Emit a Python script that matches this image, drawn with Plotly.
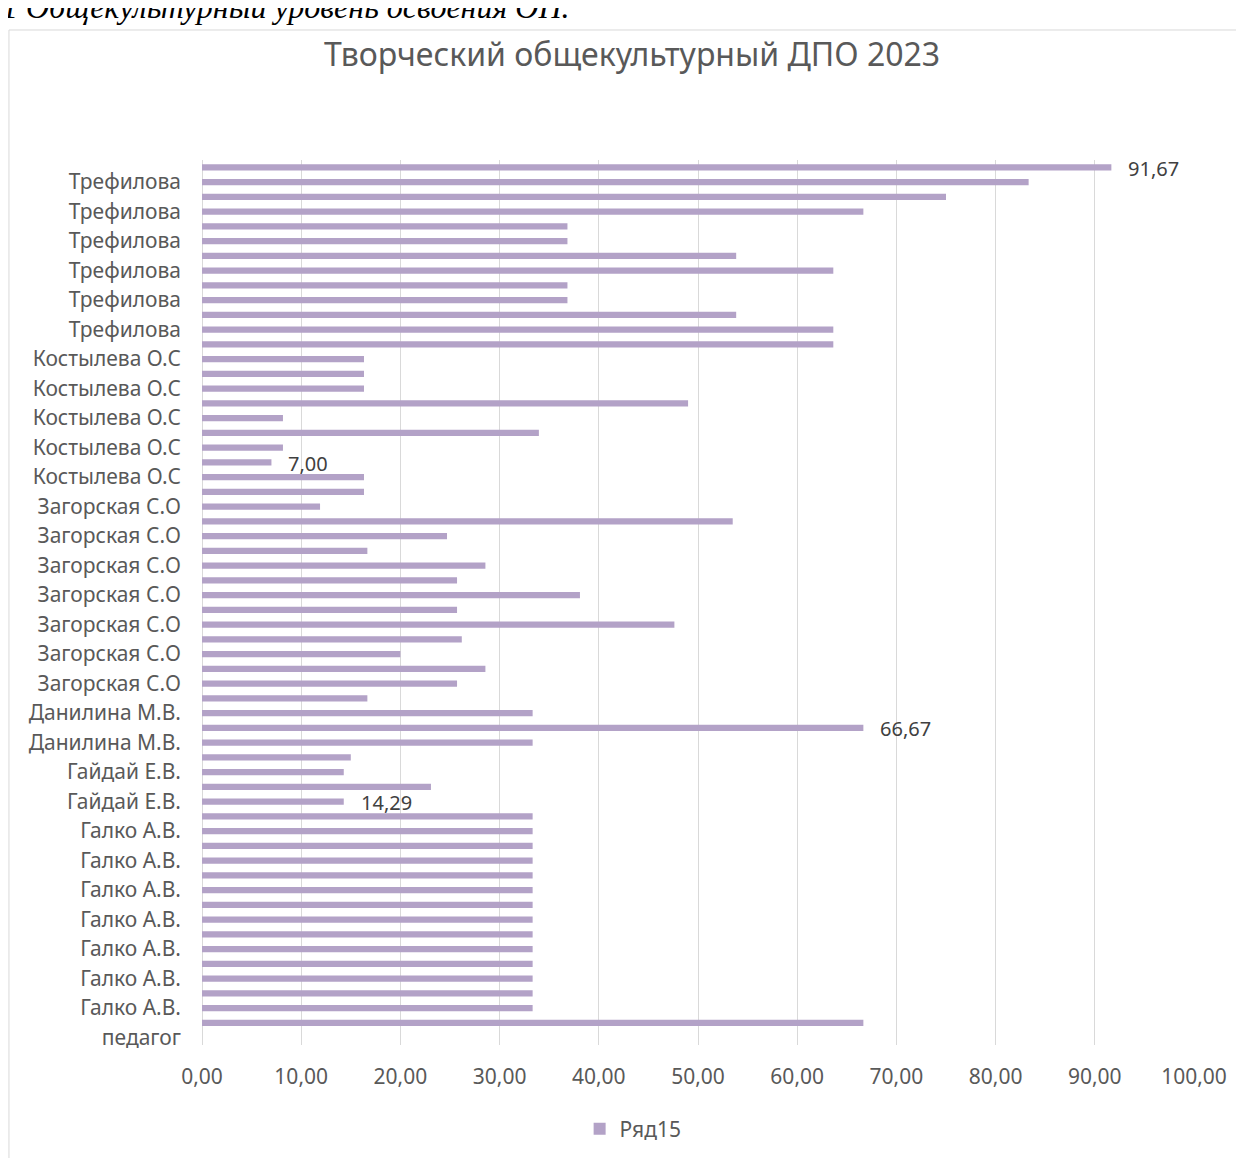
import plotly.graph_objects as go

# values read top-to-bottom, as shown in the chart (60 rows, last one empty)
values = [91.67, 83.33, 75.00, 66.67, 36.84, 36.84, 53.85, 63.64, 36.84, 36.84,
          53.85, 63.64, 63.64, 16.33, 16.33, 16.33, 49.00, 8.16, 33.96, 8.16,
          7.00, 16.33, 16.33, 11.90, 53.50, 24.70, 16.67, 28.57, 25.71, 38.10,
          25.71, 47.62, 26.19, 20.00, 28.57, 25.71, 16.67, 33.33, 66.67, 33.33,
          15.00, 14.29, 23.08, 14.29, 33.33, 33.33, 33.33, 33.33, 33.33, 33.33,
          33.33, 33.33, 33.33, 33.33, 33.33, 33.33, 33.33, 33.33, 66.67, None]

# every second row carries a visible label
tick_labels = ["Трефилова"] * 6 + ["Костылева О.С"] * 5 + ["Загорская С.О"] * 7 + \
              ["Данилина М.В."] * 2 + ["Гайдай Е.В."] * 2 + ["Галко А.В."] * 7 + ["педагог"]

# rows that have a data label
labeled_rows = [0, 20, 38, 43]

series_name = "Ряд15"
title = "Творческий общекультурный ДПО 2023"
caption = "1 Общекультурный уровень освоения ОП."

rows = list(range(len(values)))
tick_rows = rows[1::2]

fig = go.Figure()
fig.add_trace(go.Bar(
    x=values, y=rows, orientation="h", name=series_name,
    marker=dict(color="#b3a2c7", line=dict(width=0)),
    showlegend=True,
))

font = "Noto Sans"
for r in labeled_rows:
    fig.add_annotation(x=values[r], y=r, text=f"{values[r]:.2f}".replace(".", ","),
                       xanchor="left", yanchor="middle", xshift=15, yshift=-1, showarrow=False,
                       font=dict(family=font, size=20, color="#404040"))

# caption cut at the top of the page
fig.add_annotation(x=-0.2036, y=1.1725, xref="paper", yref="paper", text=f"<i>{caption}</i>",
                   xanchor="left", yanchor="middle", showarrow=False,
                   font=dict(family="Liberation Serif", size=32, color="#000000"))

# chart area frame (left and top edges)
fig.add_shape(type="line", xref="paper", yref="paper", x0=-0.1946, x1=-0.1946, y0=-0.2, y1=1.1469,
              line=dict(color="#d9d9d9", width=1))
fig.add_shape(type="line", xref="paper", yref="paper", x0=-0.1946, x1=1.1, y0=1.1469, y1=1.1469,
              line=dict(color="#d9d9d9", width=1))

fig.update_layout(
    width=1236, height=1150,
    margin=dict(l=194, r=50, t=152, b=113),
    paper_bgcolor="white", plot_bgcolor="white",
    separators=", ",
    bargap=0.58,
    font=dict(family=font, size=21, color="#595959"),
    title=dict(text=title, x=0.5049, y=0.9591, xref="container", yref="container",
               xanchor="center", yanchor="middle",
               font=dict(family=font, size=32, color="#595959")),
    legend=dict(orientation="h", x=0.4346, y=0.0252, yref="container",
                xanchor="center", yanchor="middle",
                font=dict(family=font, size=21, color="#595959")),
    xaxis=dict(range=[0, 100], dtick=10, tickformat=".2f", showgrid=True,
               gridcolor="#d9d9d9", gridwidth=1, zeroline=True, zerolinecolor="#d9d9d9",
               zerolinewidth=1, showline=False, ticks="", ticklabelstandoff=17),
    yaxis=dict(range=[len(values) - 0.5, -0.5], tickmode="array", tickvals=tick_rows,
               ticktext=tick_labels, showgrid=False, zeroline=False, showline=False,
               ticks="", ticklabelstandoff=20),
)

fig.write_html("out.html")
